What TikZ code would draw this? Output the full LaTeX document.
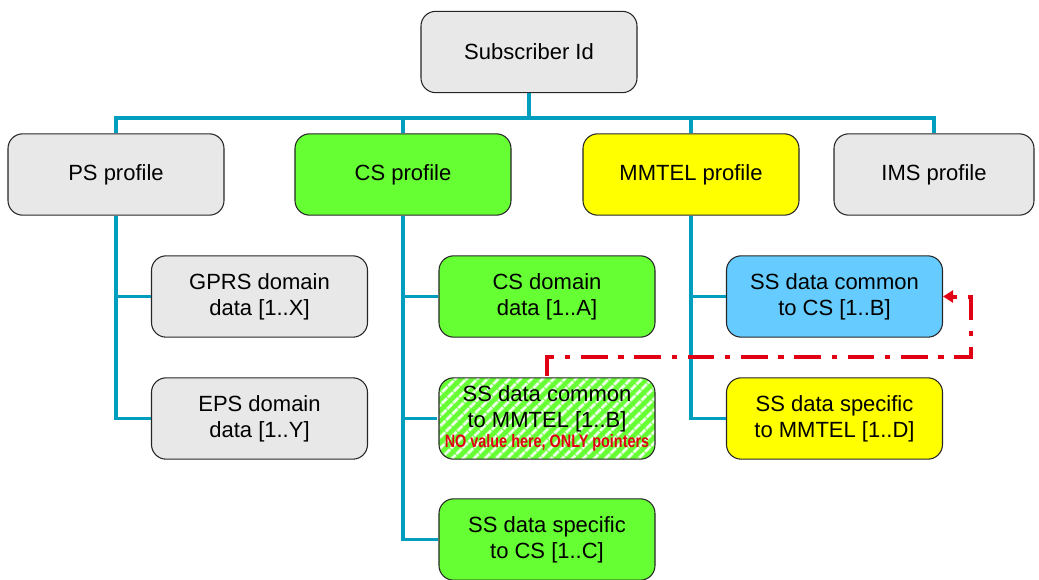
\documentclass[tikz,border=0pt]{standalone}
\usepackage{fontspec}
\setmainfont{Liberation Sans}
\usetikzlibrary{patterns.meta,arrows.meta}
\definecolor{gbox}{RGB}{232,232,232}
\definecolor{grn}{RGB}{102,255,51}
\definecolor{ylw}{RGB}{255,255,0}
\definecolor{blu}{RGB}{102,204,255}
\definecolor{teal}{RGB}{0,158,190}
\definecolor{rd}{RGB}{225,0,20}
\tikzset{
  box/.style={draw=black!85, line width=0.8pt, rounded corners=11pt,
    minimum width=162pt, minimum height=61pt, align=center, inner sep=0pt,
    font=\fontsize{16.5}{19.5}\selectfont},
  link/.style={draw=teal, line width=2.3pt},
  ptr/.style={draw=rd, line width=3pt, dash pattern=on 20pt off 8pt on 4pt off 8pt,
    -{Triangle[length=7.5pt,width=9pt,fill=rd]}},
  hatch/.style={preaction={fill=grn}, pattern={Lines[angle=45,distance=6.5pt,line width=2.4pt]}, pattern color=white!90!grn}
}
\begin{document}
\begin{tikzpicture}[x=0.75pt,y=-0.75pt]
\useasboundingbox (0,0) rectangle (1039,579);
\node[box, fill=gbox] (sub) at (529,52) {Subscriber Id};
\node[box, fill=gbox] (ps) at (116,174.5) {PS profile};
\node[box, fill=grn] (cs) at (403,174.5) {CS profile};
\node[box, fill=ylw] (mm) at (691,174.5) {MMTEL profile};
\node[box, fill=gbox, minimum width=150pt] (ims) at (934,174.5) {IMS profile};
\node[box, fill=gbox] (gprs) at (259.5,296.5) {GPRS domain\\data [1..X]};
\node[box, fill=gbox] (eps) at (259.5,418.5) {EPS domain\\data [1..Y]};
\node[box, fill=grn] (csd) at (547,296.5) {CS domain\\data [1..A]};
\node[box, hatch] (ssm) at (547,418.5) {SS data common\\to MMTEL [1..B]\\[-4pt]{\color{rd}\bfseries\fontsize{13.5}{13.5}\selectfont\scalebox{0.8}[1]{NO value here, ONLY pointers}}};
\node[box, fill=grn] (sscs) at (547,539.5) {SS data specific\\to CS [1..C]};
\node[box, fill=blu] (ssc) at (834.5,296.5) {SS data common\\to CS [1..B]};
\node[box, fill=ylw] (ssmt) at (834.5,418.5) {SS data specific\\to MMTEL [1..D]};
\coordinate (bus) at (529,118);
\coordinate (rc) at (971,357);
% tree links
\draw[link] (sub.south) -- (bus);
\draw[link] (ps.north) |- (bus) -| (ims.north);
\draw[link] (cs.north) -- (cs.north |- bus);
\draw[link] (mm.north) -- (mm.north |- bus);
\draw[link] (ps.south) |- (eps.west);
\draw[link] (ps.south |- gprs.west) -- (gprs.west);
\draw[link] (cs.south) |- (sscs.west);
\draw[link] (cs.south |- csd.west) -- (csd.west);
\draw[link] (cs.south |- ssm.west) -- (ssm.west);
\draw[link] (mm.south) |- (ssmt.west);
\draw[link] (mm.south |- ssc.west) -- (ssc.west);
% pointer
\draw[ptr] (ssm.north) |- (rc) |- (ssc.east);
\end{tikzpicture}
\end{document}
